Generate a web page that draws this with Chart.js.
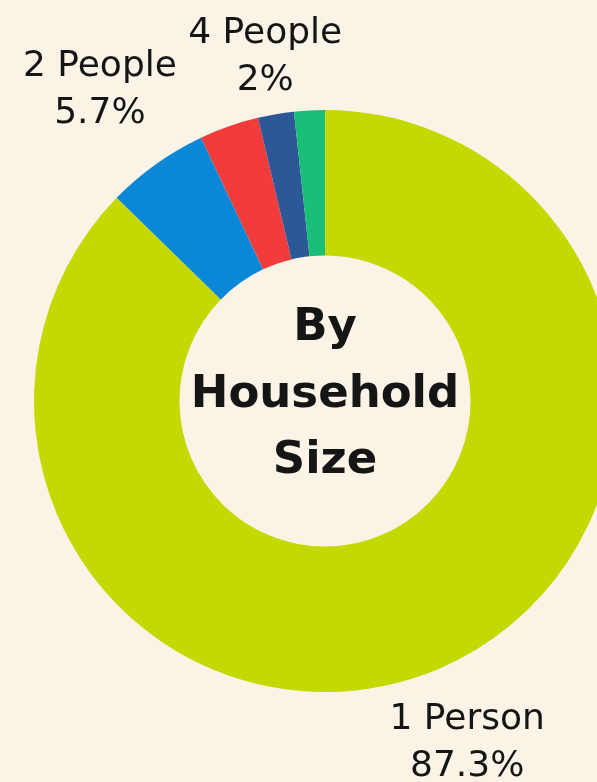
<!DOCTYPE html>
<html>
<head>
<meta charset="utf-8">
<script src="https://cdn.jsdelivr.net/npm/chart.js@4"></script>
<style>
  html, body { margin: 0; padding: 0; background: #faf3e6; overflow: hidden; }
  #wrap { width: 597px; height: 782px; position: relative; }
</style>
</head>
<body>
<div id="wrap"><canvas id="household-chart"></canvas></div>
<script>
// データ
const categories = ['1 Person', '2 People', '3 People', '4 People', '5+ People'];
const shares = [87.3, 5.7, 3.3, 2, 1.7];
const shareLabels = ['87.3%', '5.7%', '', '2%', ''];
const showLabel = [true, true, false, true, false];
const centerLines = ['By', 'Household', 'Size'];

const sliceColors = ['#c4d900', '#0b87d7', '#f23c3c', '#2d5898', '#19be78'];
// ラベルを外周からどれだけ離すか(px)
const labelGap = [75, 97, 0, 63, 0];

const textColor = '#151515';

// 外側のラベルを描く
const outerLabels = {
    id: 'outerLabels',
    afterDatasetsDraw(chart) {
        const ctx = chart.ctx;
        const arcs = chart.getDatasetMeta(0).data;
        ctx.save();
        ctx.fillStyle = textColor;
        ctx.textAlign = 'center';
        ctx.textBaseline = 'middle';
        ctx.font = '36px "DejaVu Sans"';
        arcs.forEach((arc, i) => {
            if (!showLabel[i]) return;
            const mid = (arc.startAngle + arc.endAngle) / 2;
            const r = arc.outerRadius + labelGap[i];
            const x = arc.x + Math.cos(mid) * r;
            // middle だと文字が少し上に寄るので下げる
            const y = arc.y + Math.sin(mid) * r + 5;
            ctx.fillText(categories[i], x, y - 23.5);
            ctx.fillText(shareLabels[i], x, y + 23.5);
        });
        ctx.restore();
    }
};

// 真ん中のタイトル
const centerText = {
    id: 'centerText',
    afterDatasetsDraw(chart) {
        const ctx = chart.ctx;
        const arc = chart.getDatasetMeta(0).data[0];
        ctx.save();
        ctx.fillStyle = textColor;
        ctx.textAlign = 'center';
        ctx.textBaseline = 'alphabetic';
        ctx.font = 'bold 45px "DejaVu Sans"';
        const step = 66.5;
        centerLines.forEach((line, i) => {
            ctx.fillText(line, arc.x, arc.y - 61 + i * step);
        });
        ctx.restore();
    }
};

new Chart(document.getElementById('household-chart'), {
    type: 'doughnut',
    data: {
        labels: categories,
        datasets: [{
            data: shares,
            backgroundColor: sliceColors,
            borderWidth: 0,
            radius: 291,
            cutout: '50%',
            clip: false
        }]
    },
    options: {
        responsive: true,
        maintainAspectRatio: false,
        animation: false,
        layout: { padding: { left: 53, right: 0, top: 20, bottom: 0 } },
        plugins: {
            legend: { display: false },
            tooltip: { enabled: false }
        }
    },
    plugins: [outerLabels, centerText]
});
</script>
</body>
</html>
